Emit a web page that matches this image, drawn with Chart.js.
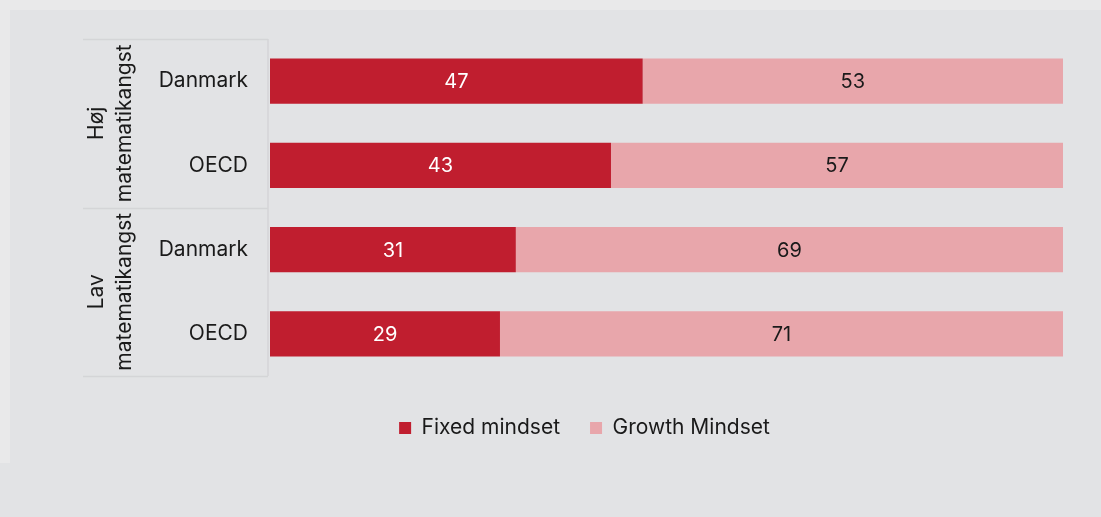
<!DOCTYPE html>
<html>
<head>
<meta charset="utf-8">
<script src="https://cdn.jsdelivr.net/npm/chart.js@4"></script>
<style>
  html, body { margin: 0; padding: 0; background: #e2e3e5; }
  #wrap { position: relative; width: 1101px; height: 517px; }
  .strip { position: absolute; background: #e9e9ea; }
  canvas { position: absolute; left: 0; top: 0; }
</style>
</head>
<body>
<div id="wrap">
  <div class="strip" style="left:0;top:0;width:1101px;height:10px;"></div>
  <div class="strip" style="left:0;top:10px;width:10px;height:453px;"></div>
  <canvas id="c" width="1101" height="517"></canvas>
</div>
<script>
const categories = ['Danmark', 'OECD', 'Danmark', 'OECD'];
const groups = [['Høj', 'matematikangst'], ['Lav', 'matematikangst']];
const groupSizes = [2, 2];
const fixedMindset = [47, 43, 31, 29];
const growthMindset = [53, 57, 69, 71];
const seriesNames = ['Fixed mindset', 'Growth Mindset'];

const DARK = '#c01e2f';
const PINK = '#e8a6ab';
const TEXT = '#1a1a1a';
const LINE = '#d4d5d7';
const FONT = 'Inter, "Noto Sans", sans-serif';
const LEGEND_CENTER_Y = 418;

const groupPlugin = {
  id: 'groupPlugin',
  afterLayout(chart) {
    const lg = chart.legend;
    if (lg) {
      lg.left += 53; lg.right += 53;
      const dy = LEGEND_CENTER_Y - (lg.top + lg.bottom) / 2;
      lg.top += dy; lg.bottom += dy;
    }
  },
  afterDraw(chart) {
    const ctx = chart.ctx;
    const y = chart.scales.y;
    const area = chart.chartArea;
    const half = (y.getPixelForValue(1) - y.getPixelForValue(0)) / 2;
    ctx.save();
    ctx.strokeStyle = LINE;
    ctx.lineWidth = 1.5;
    ctx.beginPath();
    ctx.moveTo(area.left - 2, area.top);
    ctx.lineTo(area.left - 2, area.bottom);
    ctx.stroke();
    let idx = 0;
    const bounds = [];
    groupSizes.forEach((n, gi) => {
      const top = y.getPixelForValue(idx) - half;
      const bot = y.getPixelForValue(idx + n - 1) + half;
      bounds.push(top, bot);
      ctx.save();
      ctx.translate(111, (top + bot) / 2);
      ctx.rotate(-Math.PI / 2);
      ctx.fillStyle = TEXT;
      ctx.font = '21px ' + FONT;
      ctx.textAlign = 'center';
      ctx.textBaseline = 'middle';
      const lines = groups[gi];
      const lh = 28;
      lines.forEach((t, li) => {
        ctx.fillText(t, 0, (li - (lines.length - 1) / 2) * lh);
      });
      ctx.restore();
      idx += n;
    });
    ctx.beginPath();
    [...new Set(bounds.map(b => Math.round(b)))].forEach(b => {
      ctx.moveTo(83, b + 0.5);
      ctx.lineTo(area.left - 2, b + 0.5);
    });
    ctx.stroke();
    ctx.font = '20px ' + FONT;
    ctx.textAlign = 'center';
    ctx.textBaseline = 'middle';
    chart.data.datasets.forEach((ds, di) => {
      const meta = chart.getDatasetMeta(di);
      meta.data.forEach((bar, i) => {
        const p = bar.getProps(['x', 'y', 'base'], true);
        ctx.fillStyle = di === 0 ? '#ffffff' : TEXT;
        ctx.fillText(String(ds.data[i]), (p.x + p.base) / 2, p.y + 1);
      });
    });
    ctx.restore();
  }
};

new Chart(document.getElementById('c'), {
  type: 'bar',
  data: {
    labels: categories,
    datasets: [
      { label: seriesNames[0], data: fixedMindset, backgroundColor: DARK },
      { label: seriesNames[1], data: growthMindset, backgroundColor: PINK }
    ]
  },
  options: {
    indexAxis: 'y',
    responsive: false,
    animation: false,
    devicePixelRatio: 1,
    categoryPercentage: 1,
    barPercentage: 0.536,
    layout: { padding: { top: 39, right: 38, left: 0, bottom: 80 } },
    scales: {
      x: { stacked: true, min: 0, max: 100, display: false },
      y: {
        stacked: true,
        grid: { display: false },
        border: { display: false },
        ticks: { color: TEXT, font: { family: FONT, size: 21 }, padding: 14 },
        afterFit(scale) { scale.width = 270; }
      }
    },
    plugins: {
      tooltip: { enabled: false },
      legend: {
        position: 'bottom',
        labels: {
          color: TEXT,
          font: { family: FONT, size: 21 },
          boxWidth: 12,
          boxHeight: 12,
          padding: 30
        }
      }
    }
  },
  plugins: [groupPlugin]
});
</script>
</body>
</html>
